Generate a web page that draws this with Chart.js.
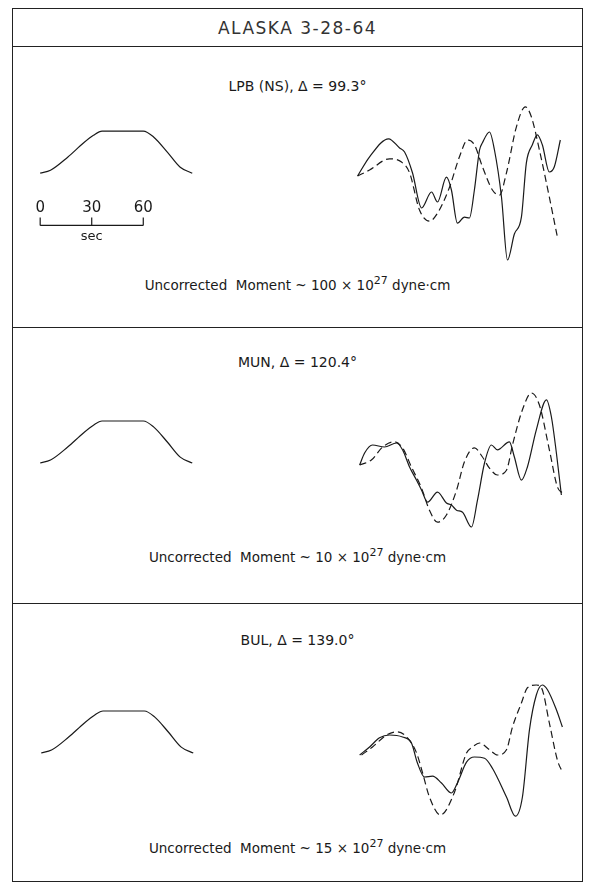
<!DOCTYPE html>
<html lang="en">
<head>
<meta charset="UTF-8">
<title>Alaska 3-28-64</title>
<style>
    body { margin: 0; background: #fff; font-family: "DejaVu Sans", sans-serif; font-weight: 400; color: #1a1a1a; }
    #page { position: relative; width: 590px; height: 887px; overflow: hidden; }
    .frame { position: absolute; left: 12px; top: 8px; width: 571px; height: 874px; border: 1.5px solid #222; box-sizing: border-box; }
    .rule { position: absolute; left: 12px; width: 571px; border-top: 1.5px solid #222; }
    .txt { position: absolute; left: 12px; width: 571px; text-align: center; font-size: 13.5px; line-height: 18px; }
    .stn { font-size: 14px; }
    .txt sup { font-size: 11px; line-height: 0; position: relative; top: -1px; vertical-align: super; }
    canvas { position: absolute; }
</style>
</head>
<body>
<div id="page">
    <div class="frame"></div>
    <div class="rule" style="top:46px"></div>
    <div class="rule" style="top:327px"></div>
    <div class="rule" style="top:603px"></div>

    <div class="txt" style="top:18px; font-size:17px; line-height:20px; letter-spacing:1.5px; color:#333">ALASKA 3-28-64</div>

    <div class="txt stn" style="top:77px">LPB (NS), &Delta; = 99.3&deg;</div>
    <div class="txt" style="top:276px">Uncorrected&nbsp; Moment ~ 100 &times; 10<sup>27</sup> dyne&middot;cm</div>

    <div class="txt stn" style="top:353px">MUN, &Delta; = 120.4&deg;</div>
    <div class="txt" style="top:548px">Uncorrected&nbsp; Moment ~ 10 &times; 10<sup>27</sup> dyne&middot;cm</div>

    <div class="txt stn" style="top:631px">BUL, &Delta; = 139.0&deg;</div>
    <div class="txt" style="top:839px">Uncorrected&nbsp; Moment ~ 15 &times; 10<sup>27</sup> dyne&middot;cm</div>

    <canvas id="src1" width="189" height="139" style="left:23px; top:110px"></canvas>
    <canvas id="src2" width="189" height="84" style="left:23px; top:400px"></canvas>
    <canvas id="src3" width="189" height="84" style="left:24px; top:690px"></canvas>

    <canvas id="wav1" width="223" height="176" style="left:349px; top:96px"></canvas>
    <canvas id="wav2" width="223" height="164" style="left:349px; top:381px"></canvas>
    <canvas id="wav3" width="223" height="152" style="left:349px; top:675px"></canvas>
</div>

<script src="https://cdn.jsdelivr.net/npm/chart.js@4"></script>
<script>
    // source time function (sec, relative amplitude)
    const srcTime = [0, 6, 16, 25, 31, 36, 60, 66, 74, 81.5, 88.5];
    const srcAmp  = [0, 0.07, 0.38, 0.71, 0.9, 1, 1, 0.86, 0.5, 0.14, 0];
    const scaleTicks = [0, 30, 60];

    // LPB (NS): observed (solid) and synthetic (dashed)
    const lpbObsTime = [0, 7, 18.1, 24.5, 27.4, 32, 37.3, 43.1, 46.6, 51.8, 54.7, 58.2, 62.3, 65.2, 68.1, 71.1, 72.8, 76.9, 79.8, 83.9, 87.4, 91.4, 95.5, 98.4, 101.9, 104.8, 107.7, 111.8, 114.7, 118.2];
    const lpbObs     = [0, 0.48, 0.93, 0.7, 0.6, 0.08, -0.8, -0.4, -0.65, -0.03, -0.35, -1.18, -1.03, -1.05, -0.35, 0.65, 0.83, 1.1, 0.65, -0.53, -2.1, -1.45, -1.03, 0.33, 0.78, 1.03, 0.78, 0.1, 0.23, 0.9];
    const lpbSynTime = [0, 7, 18.6, 25.6, 30.3, 36.1, 41.9, 46.6, 53.6, 59.4, 64.1, 68.1, 72.8, 78.6, 82.7, 86.8, 92.6, 97.8, 101.3, 106, 111.8, 116.5];
    const lpbSyn     = [0, 0.15, 0.43, 0.35, 0.08, -0.85, -1.13, -0.93, -0.28, 0.48, 0.9, 0.78, 0.23, -0.35, -0.48, 0.08, 1.23, 1.73, 1.48, 0.65, -0.53, -1.53];

    // MUN
    const munObsTime = [1.2, 4.1, 8.7, 15.7, 22.7, 26.2, 30.3, 34.4, 37.3, 40.8, 46.6, 51.8, 54.7, 57.7, 61.2, 66.4, 69.9, 74, 78, 81.5, 88.5, 91.4, 95.5, 99, 104.2, 110.1, 113, 115.9, 118.8];
    const munObs     = [0, 0.3, 0.5, 0.45, 0.55, 0.38, -0.05, -0.38, -0.63, -0.93, -0.68, -0.95, -1, -1.13, -1.18, -1.55, -0.88, 0.05, 0.5, 0.38, 0.58, 0.2, -0.38, -0.05, 0.88, 1.63, 1.2, 0.3, -0.75];
    const munSynTime = [1.2, 8.2, 14.6, 21.5, 26.2, 31.4, 37.3, 41.9, 46.6, 51.8, 57.7, 62.3, 68.1, 72.8, 76.9, 81.5, 86.8, 90.3, 96.1, 101.3, 106, 111.8, 116.5, 119.4];
    const munSyn     = [0, 0.13, 0.45, 0.58, 0.43, -0.05, -0.58, -1.13, -1.43, -1.25, -0.63, 0.08, 0.43, 0.2, -0.08, -0.25, -0.13, 0.5, 1.38, 1.8, 1.5, 0.38, -0.55, -0.7];

    // BUL
    const bulObsTime = [1.2, 7, 12.8, 18.6, 26.2, 31.4, 34.9, 39, 43.7, 48.9, 54.7, 58.2, 63.5, 68.1, 74, 78.6, 86.8, 92, 96.1, 100.2, 104.2, 107.7, 110.7, 115.9, 119.4];
    const bulObs     = [0, 0.2, 0.43, 0.5, 0.45, 0.3, -0.2, -0.55, -0.53, -0.7, -0.95, -0.7, -0.18, -0.05, -0.08, -0.33, -1.05, -1.53, -1.05, 0.63, 1.5, 1.75, 1.63, 1.13, 0.7];
    const bulSynTime = [2.3, 8.7, 16.9, 23.3, 29.1, 34.4, 37.9, 41.9, 48.3, 56.5, 63.5, 67, 71.1, 76.9, 81.5, 86.8, 90.3, 95.5, 99, 104.2, 107.2, 111.8, 116.5, 119.4];
    const bulSyn     = [0, 0.2, 0.5, 0.58, 0.43, 0.05, -0.45, -1.05, -1.5, -0.93, 0.05, 0.2, 0.3, 0.13, 0, 0.13, 0.7, 1.3, 1.68, 1.75, 1.68, 0.8, -0.13, -0.43];

    const ink = '#1a1a1a';

    function pts(xs, ys) {
        return xs.map((x, i) => ({ x: x, y: ys[i] }));
    }

    function line(xs, ys, dashed) {
        return {
            data: pts(xs, ys),
            borderColor: ink,
            borderWidth: 1.2,
            borderDash: dashed ? [7, 4] : [],
            pointRadius: 0,
            cubicInterpolationMode: 'monotone',
            fill: false,
            clip: false
        };
    }

    // scale bar under the first source function: 0 30 60 / sec
    const secBar = {
        id: 'secBar',
        afterDatasetsDraw(chart) {
            const ctx = chart.ctx, sx = chart.scales.x, sy = chart.scales.y;
            const yLab = sy.getPixelForValue(-0.83);
            const yBar = sy.getPixelForValue(-1.24);
            const yTop = sy.getPixelForValue(-1.05);
            ctx.save();
            ctx.strokeStyle = ink;
            ctx.fillStyle = ink;
            ctx.lineWidth = 1.2;
            ctx.font = '15px "DejaVu Sans"';
            ctx.textAlign = 'center';
            ctx.textBaseline = 'middle';
            scaleTicks.forEach(t => ctx.fillText(String(t), sx.getPixelForValue(t), yLab));
            ctx.beginPath();
            ctx.moveTo(sx.getPixelForValue(scaleTicks[0]), yBar);
            ctx.lineTo(sx.getPixelForValue(scaleTicks[scaleTicks.length - 1]), yBar);
            scaleTicks.forEach(t => {
                ctx.moveTo(sx.getPixelForValue(t), yBar);
                ctx.lineTo(sx.getPixelForValue(t), yTop);
            });
            ctx.stroke();
            ctx.font = '13px "DejaVu Sans"';
            ctx.fillText('sec', sx.getPixelForValue(scaleTicks[1]), sy.getPixelForValue(-1.5));
            ctx.restore();
        }
    };

    function makeChart(id, datasets, xr, yr, plugins) {
        return new Chart(document.getElementById(id), {
            type: 'line',
            data: { datasets: datasets },
            options: {
                responsive: false,
                animation: false,
                events: [],
                layout: { padding: 0 },
                plugins: { legend: { display: false }, tooltip: { enabled: false } },
                scales: {
                    x: { type: 'linear', min: xr[0], max: xr[1], display: false },
                    y: { type: 'linear', min: yr[0], max: yr[1], display: false }
                }
            },
            plugins: plugins || []
        });
    }

    makeChart('src1', [line(srcTime, srcAmp, false)], [-10, 100], [-1.8, 1.5], [secBar]);
    makeChart('src2', [line(srcTime, srcAmp, false)], [-10, 100], [-0.5, 1.5]);
    makeChart('src3', [line(srcTime, srcAmp, false)], [-10, 100], [-0.5, 1.5]);

    makeChart('wav1', [line(lpbObsTime, lpbObs, false), line(lpbSynTime, lpbSyn, true)], [-5, 125], [-2.4, 2.0]);
    makeChart('wav2', [line(munObsTime, munObs, false), line(munSynTime, munSyn, true)], [-5, 125], [-2.0, 2.1]);
    makeChart('wav3', [line(bulObsTime, bulObs, false), line(bulSynTime, bulSyn, true)], [-5, 125], [-1.8, 2.0]);
</script>
</body>
</html>
